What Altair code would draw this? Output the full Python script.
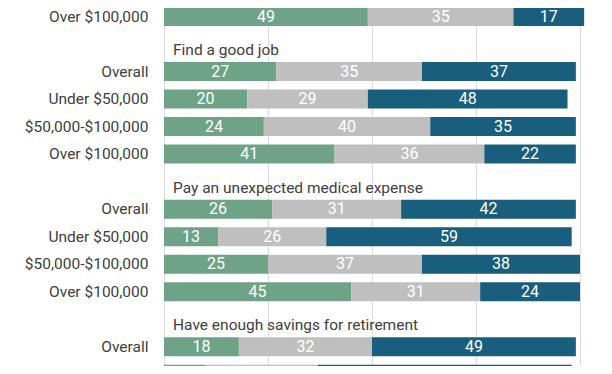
import altair as alt
import pandas as pd

# ---- data -------------------------------------------------------------
row_ids = ["r0", "s1", "r1", "r2", "r3", "r4", "s2", "r5", "r6", "r7", "r8", "s3", "r9", "r10"]
row_names = ["Over $100,000", "",
             "Overall", "Under $50,000", "$50,000-$100,000", "Over $100,000", "",
             "Overall", "Under $50,000", "$50,000-$100,000", "Over $100,000", "",
             "Overall", "Under $50,000"]

bar_ids = ["r0", "r1", "r2", "r3", "r4", "r5", "r6", "r7", "r8", "r9", "r10"]
green_vals = [49, 27, 20, 24, 41, 26, 13, 25, 45, 18, 10]
gray_vals = [35, 35, 29, 40, 36, 31, 26, 37, 31, 32, 27]
blue_vals = [17, 37, 48, 35, 22, 42, 59, 38, 24, 49, 61]

header_ids = ["s1", "s2", "s3"]
header_texts = ["Find a good job", "Pay an unexpected medical expense",
                "Have enough savings for retirement"]

series = ["Confident", "Neutral", "Not confident"]
colors = ["#6fa388", "#bfbfbf", "#1a5e7d"]
grid_values = [0, 25, 50, 75, 100]

# ---- tables -------------------------------------------------------------
name_of = dict(zip(row_ids, row_names))
row_keys = [f"{r}|{name_of[r]}" for r in row_ids]

records = []
for rid, g, m, b in zip(bar_ids, green_vals, gray_vals, blue_vals):
    for i, (s, v) in enumerate(zip(series, [g, m, b])):
        records.append({"key": f"{rid}|{name_of[rid]}", "series": s, "ord": i, "value": v})
bars_df = pd.DataFrame(records)

head_df = pd.DataFrame({"key": [f"{h}|{name_of[h]}" for h in header_ids],
                        "text": header_texts})

# ---- encodings ----------------------------------------------------------
x_scale = alt.Scale(domain=[0, 100], nice=False, zero=True)
x_axis = alt.Axis(values=grid_values, grid=True, labels=False, ticks=False,
                  domain=False, title=None, gridColor="#dcdcdc", gridWidth=1)

y_scale = alt.Scale(domain=row_keys, range=[-5.26, 380.02],
                    paddingInner=0.31, paddingOuter=0.155)
y_axis = alt.Axis(title=None, ticks=False, domain=False, grid=False,
                  labelExpr="split(datum.value, '|')[1]",
                  labelFont="Roboto", labelFontSize=15.5, labelColor="#404040",
                  labelPadding=16, labelLimit=200)
y_enc = alt.Y("key:N", scale=y_scale, axis=y_axis, sort=row_keys)

stacked = alt.Chart(bars_df).transform_stack(
    stack="value", groupby=["key"], sort=[alt.SortField("ord")], as_=["x0", "x1"]
).transform_calculate(mid="(datum.x0 + datum.x1) / 2")

bars = stacked.mark_bar().encode(
    x=alt.X("x0:Q", scale=x_scale, axis=x_axis),
    x2="x1:Q",
    y=y_enc,
    color=alt.Color("series:N", scale=alt.Scale(domain=series, range=colors), legend=None),
)

labels = stacked.mark_text(color="white", font="Roboto", fontSize=16,
                           baseline="middle", align="center").encode(
    x=alt.X("mid:Q", scale=x_scale, axis=x_axis),
    y=y_enc,
    text=alt.Text("value:Q"),
)

headers = alt.Chart(head_df).mark_text(align="left", baseline="middle", dx=9, dy=6,
                                       font="Roboto", fontSize=15.5, color="#404040").encode(
    x=alt.X(datum=0, scale=x_scale, axis=x_axis),
    y=y_enc,
    text="text:N",
)

chart = alt.layer(bars, labels, headers).properties(
    width=416, height=358,
    padding={"left": 156, "right": 24, "top": 0, "bottom": 0},
    autosize=alt.AutoSizeParams(type="none"),
    background="white",
).configure_view(strokeWidth=0)

chart.save("out.html", embed_options={"renderer": "svg", "actions": False})
